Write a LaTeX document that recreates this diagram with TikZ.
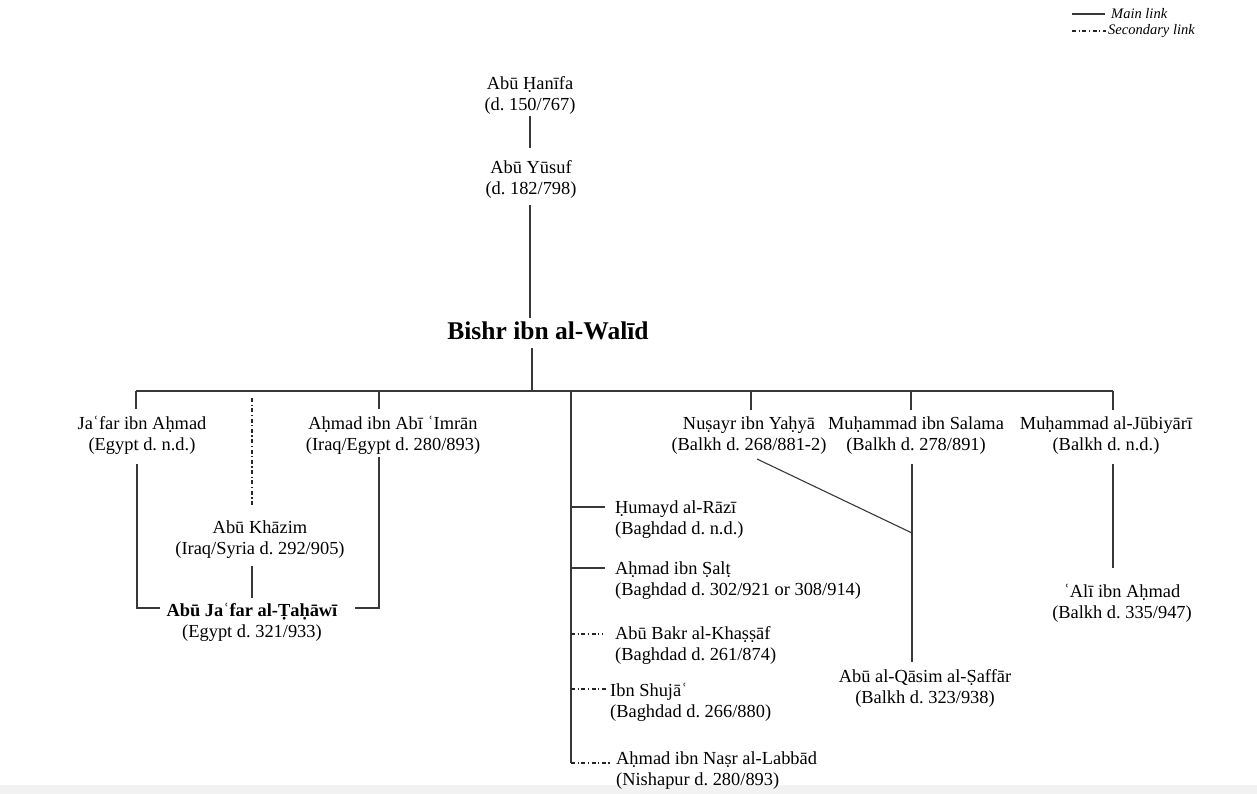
\documentclass[tikz,border=0pt]{standalone}
\usepackage{fontspec}
\setmainfont{Liberation Serif}
\frenchspacing
\begin{document}
\begin{tikzpicture}[x=1pt,y=-1pt,
  every node/.style={inner sep=0pt, text=black},
  person/.style={align=center, font=\fontsize{18.4}{21}\selectfont},
  lperson/.style={person, align=left, anchor=west},
  chief/.style={font=\fontsize{25.5}{30}\selectfont\bfseries},
  legendtext/.style={anchor=west, font=\fontsize{14.5}{16}\selectfont\itshape},
  link/.style={draw=black!78, line width=1.1pt},
  sec/.style={draw=black!85, line width=1.1pt, dash pattern=on 4pt off 2.5pt on 1.3pt off 2.5pt}]
\useasboundingbox (0,0) rectangle (1257,794);
\fill[black!5] (0,785) rectangle (1257,794);

% legend
\coordinate (lgA1) at (1072,14); \coordinate (lgA2) at (1105,14);
\coordinate (lgB1) at (1072,31); \coordinate (lgB2) at (1106,31);
\node[legendtext] (lgmain) at (1111,14) {Main link};
\node[legendtext] (lgsec) at (1108,31) {Secondary link};
\draw[link] (lgA1) -- (lgA2);
\draw[sec] (lgB1) -- (lgB2);

% teachers
\node[person] (hanifa) at (530,95.5) {Abū Ḥanīfa\\(d. 150/767)};
\node[person] (yusuf) at (531,179.5) {Abū Yūsuf\\(d. 182/798)};
\node[chief] (bishr) at (548,331) {Bishr ibn al-Walīd};

% students of Bishr
\node[person] (jafar) at (142,435.5) {Jaʿfar ibn Aḥmad\\(Egypt d. n.d.)};
\node[person] (imran) at (393,435.5) {Aḥmad ibn Abī ʿImrān\\(Iraq/Egypt d. 280/893)};
\node[person] (nusayr) at (749,435.5) {Nuṣayr ibn Yaḥyā\\(Balkh d. 268/881-2)};
\node[person] (salama) at (916,435.5) {Muḥammad ibn Salama\\(Balkh d. 278/891)};
\node[person] (jubiyari) at (1106,435.5) {Muḥammad al-Jūbiyārī\\(Balkh d. n.d.)};

\node[lperson] (humayd) at (615,520) {Ḥumayd al-Rāzī\\(Baghdad d. n.d.)};
\node[lperson] (salt) at (615,581) {Aḥmad ibn Ṣalṭ\\(Baghdad d. 302/921 or 308/914)};
\node[lperson] (khassaf) at (615,646) {Abū Bakr al-Khaṣṣāf\\(Baghdad d. 261/874)};
\node[lperson] (shuja) at (610,702) {Ibn Shujāʿ\\(Baghdad d. 266/880)};
\node[lperson] (labbad) at (616,770.5) {Aḥmad ibn Naṣr al-Labbād\\(Nishapur d. 280/893)};

% later generation
\node[person] (khazim) at (260,540) {Abū Khāzim\\(Iraq/Syria d. 292/905)};
\node[person] (tahawi) at (252,622.5) {{\bfseries Abū Jaʿfar al-Ṭaḥāwī}\\(Egypt d. 321/933)};
\node[person] (saffar) at (925,688) {Abū al-Qāsim al-Ṣaffār\\(Balkh d. 323/938)};
\node[person] (ali) at (1122,603) {ʿAlī ibn Aḥmad\\(Balkh d. 335/947)};

% attachment points
\coordinate (hanifa-b) at (530,116);  \coordinate (yusuf-t) at (530,148);
\coordinate (yusuf-b) at (530,205);   \coordinate (bishr-t) at (530,318);
\coordinate (bishr-b) at (532,348);   \coordinate (bishr-bar) at (532,391);
\coordinate (barL) at (136,391);      \coordinate (barR) at (1113,391);
\coordinate (jafar-t) at (136,409);   \coordinate (imran-bar) at (379,391);
\coordinate (imran-t) at (379,409);   \coordinate (khazim-bar) at (252,398);
\coordinate (khazim-t) at (252,507);  \coordinate (mid-bar) at (571,391);
\coordinate (mid-end) at (571,763);
\coordinate (nusayr-bar) at (751,391); \coordinate (nusayr-t) at (751,410);
\coordinate (salama-bar) at (911,391); \coordinate (salama-t) at (911,410);
\coordinate (jubiyari-t) at (1113,410);
\coordinate (jafar-b) at (137,464);   \coordinate (jafar-c) at (137,608);
\coordinate (tahawi-l) at (160,608);  \coordinate (imran-b) at (379,457);
\coordinate (imran-c) at (379,608);   \coordinate (tahawi-r) at (355,608);
\coordinate (khazim-b) at (252,566);  \coordinate (tahawi-t) at (252,598);
\coordinate (humayd-j) at (571,507);  \coordinate (humayd-l) at (605,507);
\coordinate (salt-j) at (571,568);    \coordinate (salt-l) at (605,568);
\coordinate (khassaf-j) at (571,634); \coordinate (khassaf-l) at (603,634);
\coordinate (shuja-j) at (571,689);   \coordinate (shuja-l) at (606,689);
\coordinate (labbad-l) at (611,763);
\coordinate (nusayr-b) at (757,459);  \coordinate (saffar-j) at (912,533);
\coordinate (salama-b) at (912,464);  \coordinate (saffar-t) at (912,662);
\coordinate (jubiyari-b) at (1113,464); \coordinate (ali-t) at (1113,568);

% main chain
\draw[link] (hanifa-b) -- (yusuf-t);
\draw[link] (yusuf-b) -- (bishr-t);
\draw[link] (bishr-b) -- (bishr-bar);
\draw[link] (barL) -- (barR);
\draw[link] (barL) -- (jafar-t);
\draw[link] (imran-bar) -- (imran-t);
\draw[link] (nusayr-bar) -- (nusayr-t);
\draw[link] (salama-bar) -- (salama-t);
\draw[link] (barR) -- (jubiyari-t);
\draw[sec]  (khazim-bar) -- (khazim-t);

% middle column of Baghdad students
\draw[link] (mid-bar) -- (mid-end);
\draw[link] (humayd-j) -- (humayd-l);
\draw[link] (salt-j) -- (salt-l);
\draw[sec]  (khassaf-j) -- (khassaf-l);
\draw[sec]  (shuja-j) -- (shuja-l);
\draw[sec]  (mid-end) -- (labbad-l);

% al-Tahawi's teachers
\draw[link] (jafar-b) -- (jafar-c) -- (tahawi-l);
\draw[link] (imran-b) -- (imran-c) -- (tahawi-r);
\draw[link] (khazim-b) -- (tahawi-t);

% Balkh line
\draw[link] (nusayr-b) -- (saffar-j);
\draw[link] (salama-b) -- (saffar-t);
\draw[link] (jubiyari-b) -- (ali-t);
\end{tikzpicture}
\end{document}
